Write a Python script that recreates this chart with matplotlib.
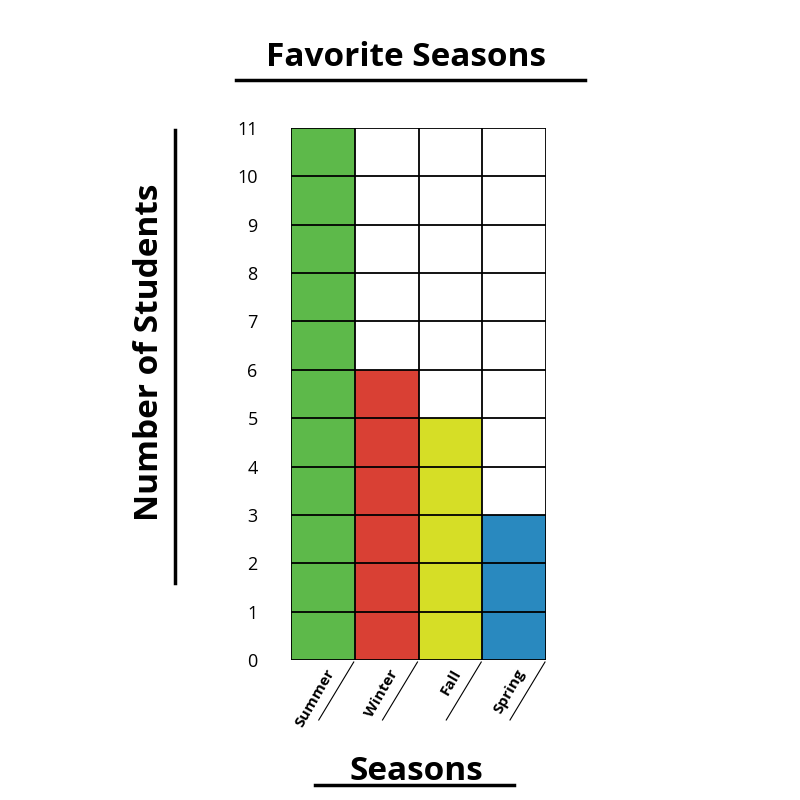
import matplotlib
matplotlib.use("Agg")
from matplotlib import pyplot as plt
from matplotlib.lines import Line2D

plt.rcParams['font.family'] = ['Open Sans', 'DejaVu Sans']

seasons = ["Summer", "Winter", "Fall", "Spring"]
students = [11, 6, 5, 3]
colors = ["#5DB94A", "#D94034", "#D6DE26", "#2989BF"]
y_max = 11

fig = plt.figure(figsize=(8, 8), dpi=100)
ax = fig.add_axes([291 / 800, 1 - 660 / 800, 255 / 800, 532 / 800])

ax.bar(range(len(seasons)), students, width=1, align='edge', color=colors, linewidth=0, zorder=1)

# cell grid
ax.hlines(range(y_max + 1), 0, len(seasons), colors='black', linewidth=1.3, zorder=2)
ax.vlines(range(len(seasons) + 1), 0, y_max, colors='black', linewidth=1.3, zorder=2)

ax.set_xlim(0, len(seasons))
ax.set_ylim(0, y_max)
for s in ax.spines.values():
    s.set_visible(False)
ax.set_xticks([])
ax.set_yticks(range(y_max + 1))
ax.tick_params(axis='y', length=0, pad=24, labelsize=13)

# slanted category labels with a line under each one
fig.canvas.draw()
inv = fig.transFigure.inverted()
for i, name in enumerate(seasons):
    x0, y0 = ax.transData.transform((i + 1, 0))
    p0 = inv.transform((x0 - 1, y0 - 2))
    p1 = inv.transform((x0 - 36, y0 - 60))
    fig.add_artist(Line2D([p0[0], p1[0]], [p0[1], p1[1]], color='black', linewidth=0.8))
    tx, ty = inv.transform((x0 - 18, y0 - 14))
    fig.text(tx, ty, name, rotation=60, rotation_mode='anchor', ha='right', va='bottom',
             fontsize=11, fontweight='bold')

# titles with underlines
fig.text(406 / 800, 1 - 58 / 800, "Favorite Seasons", ha='center', va='center',
         fontsize=24, fontweight='bold')
fig.add_artist(Line2D([236 / 800, 585 / 800], [1 - 80 / 800] * 2, color='black', linewidth=2.5))

fig.text(150 / 800, 1 - 352 / 800, "Number of Students", rotation=90, ha='center', va='center',
         fontsize=24, fontweight='bold')
fig.add_artist(Line2D([175 / 800] * 2, [1 - 130 / 800, 1 - 583 / 800], color='black', linewidth=2.5))

fig.text(416 / 800, 1 - 771 / 800, "Seasons", ha='center', va='center',
         fontsize=24, fontweight='bold')
fig.add_artist(Line2D([315 / 800, 514 / 800], [1 - 785 / 800] * 2, color='black', linewidth=2.5))

fig.savefig("out.png", dpi=100, facecolor='white')
